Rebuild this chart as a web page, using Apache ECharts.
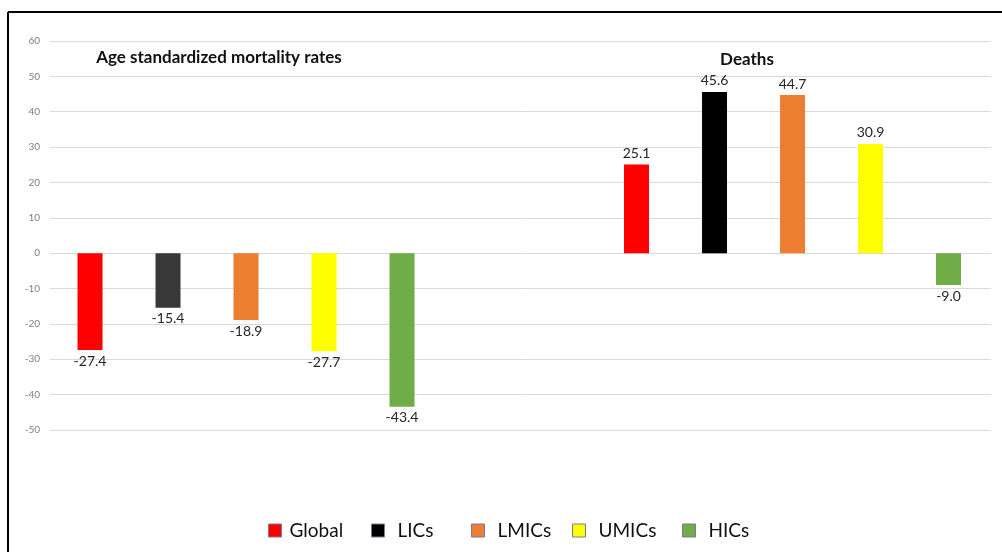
<!DOCTYPE html>
<html>
<head>
<meta charset="utf-8">
<script src="https://cdn.jsdelivr.net/npm/echarts@6/dist/echarts.min.js"></script>
<style>html,body{margin:0;padding:0;background:#fff;}#c{width:1002px;height:552px;}</style>
</head>
<body>
<div id="c"></div>
<script>
var categories = ['Age standardized mortality rates', 'Deaths'];
var globalVals = [-27.4, 25.1];
var licsVals = [-15.4, 45.6];
var lmicsVals = [-18.9, 44.7];
var umicsVals = [-27.7, 30.9];
var hicsVals = [-43.4, -9.0];
var seriesNames = ['Global', 'LICs', 'LMICs', 'UMICs', 'HICs'];
var yTicks = [-50, -40, -30, -20, -10, 0, 10, 20, 30, 40, 50, 60];

var colors = ['#ff0000', '#000000', '#ed7d31', '#ffff00', '#70ad47'];
var seriesVals = [globalVals, licsVals, lmicsVals, umicsVals, hicsVals];
var labelFont = 'Lato, "Open Sans", sans-serif';

// bar axis: the two groups with an empty spacer slot between them
var barAxisCats = [categories[0], '', categories[1]];

var chart = echarts.init(document.getElementById('c'), null, {renderer: 'canvas'});

var series = seriesVals.map(function (vals, i) {
  var items = vals.map(function (v, j) {
    var item = {
      value: v,
      label: {position: v < 0 ? 'bottom' : 'top'}
    };
    if (i === 1 && j === 0) item.itemStyle = {color: '#383838'};
    return item;
  });
  return {
    name: seriesNames[i],
    type: 'bar',
    xAxisIndex: 1,
    yAxisIndex: 1,
    clip: false,
    barWidth: 25,
    barGap: '212%',
    itemStyle: {color: colors[i]},
    data: [items[0], '-', items[1]],
    label: {
      show: true,
      distance: 4,
      color: '#262626',
      fontSize: 14,
      fontFamily: labelFont,
      formatter: function (p) { return Number(p.value).toFixed(1); }
    }
  };
});

var legendLefts = [268, 371, 471, 572, 682];
var legends = seriesNames.map(function (n, i) {
  return {
    data: [n],
    left: legendLefts[i],
    top: 521,
    padding: 0,
    itemWidth: 13,
    itemHeight: 13,
    icon: 'rect',
    itemStyle: {borderColor: '#7a7a9a', borderWidth: 1},
    textStyle: {fontSize: 19, color: '#111', fontFamily: labelFont, padding: [0, 0, 0, i === 0 ? 3 : 8]},
    selectedMode: false
  };
});

chart.setOption({
  animation: false,
  backgroundColor: '#ffffff',
  grid: [
    {left: 50, right: 11, top: 41, bottom: 122},
    {left: 109.4, right: 72.85, top: 41, bottom: 122}
  ],
  xAxis: [
    {type: 'category', gridIndex: 0, data: categories, show: false},
    {type: 'category', gridIndex: 1, data: barAxisCats, show: false}
  ],
  yAxis: [
    {
      type: 'value', gridIndex: 0, min: yTicks[0], max: yTicks[yTicks.length - 1], interval: 10,
      axisLine: {show: false}, axisTick: {show: false},
      axisLabel: {color: '#7f7f7f', fontSize: 10, margin: 10, fontFamily: labelFont},
      splitLine: {lineStyle: {color: '#d9d9d9', width: 1}}
    },
    {
      type: 'value', gridIndex: 1, min: yTicks[0], max: yTicks[yTicks.length - 1], interval: 10,
      show: false, splitLine: {show: false}
    }
  ],
  legend: legends,
  graphic: [
    {type: 'text', x: 219, y: 58, style: {text: categories[0], textAlign: 'center', textVerticalAlign: 'middle', font: 'bold 17px ' + labelFont, fill: '#111'}},
    {type: 'text', x: 747, y: 60, style: {text: categories[1], textAlign: 'center', textVerticalAlign: 'middle', font: 'bold 17px ' + labelFont, fill: '#111'}},
    {type: 'line', shape: {x1: 8, y1: 12, x2: 1002, y2: 12}, style: {stroke: '#000', lineWidth: 2}},
    {type: 'line', shape: {x1: 8, y1: 12, x2: 8, y2: 552}, style: {stroke: '#000', lineWidth: 2}}
  ],
  series: series
});
</script>
</body>
</html>
